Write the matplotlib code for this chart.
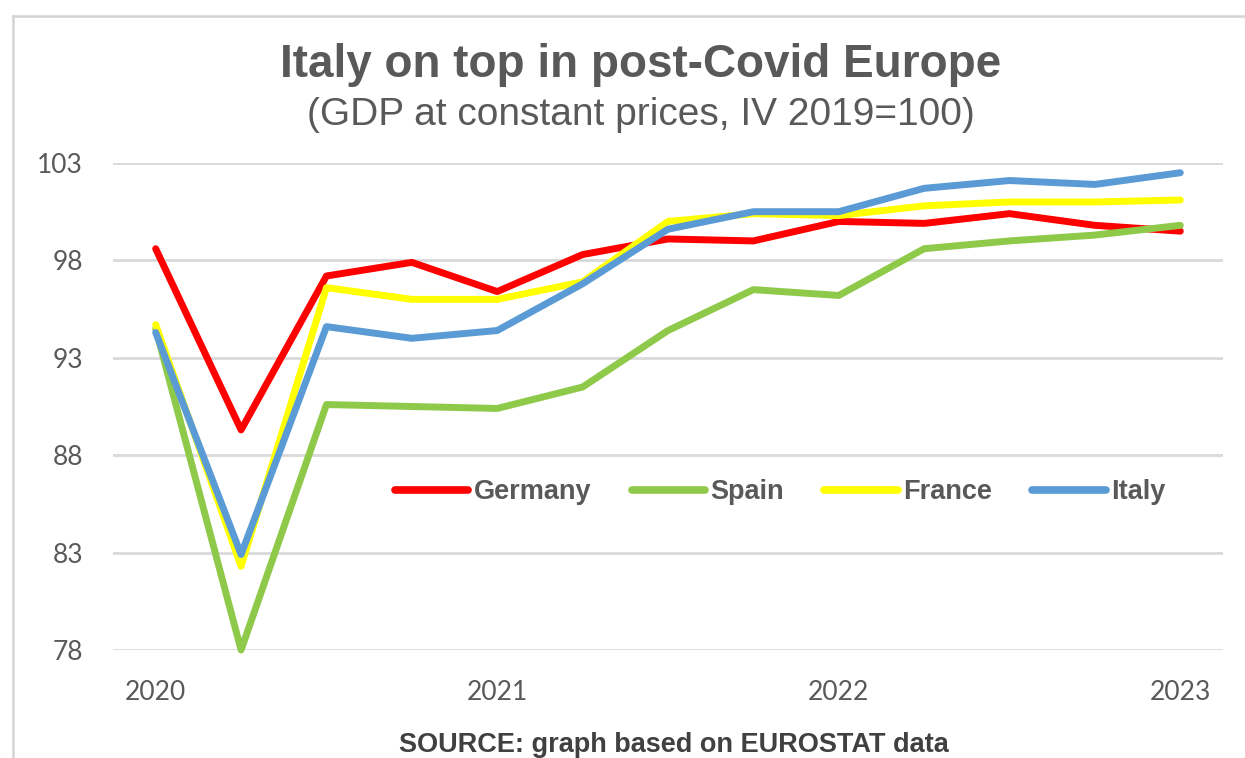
import matplotlib
matplotlib.use("Agg")
import matplotlib.pyplot as plt
from matplotlib.lines import Line2D

# ---- data (GDP at constant prices, IV 2019 = 100), quarterly 2020Q1 .. 2023Q1 ----
quarters = ["2020Q1", "2020Q2", "2020Q3", "2020Q4",
            "2021Q1", "2021Q2", "2021Q3", "2021Q4",
            "2022Q1", "2022Q2", "2022Q3", "2022Q4",
            "2023Q1"]
germany = [98.6, 89.3, 97.2, 97.9, 96.4, 98.3, 99.1, 99.0, 100.0, 99.9, 100.4, 99.8, 99.5]
spain = [94.5, 78.0, 90.6, 90.5, 90.4, 91.5, 94.4, 96.5, 96.2, 98.6, 99.0, 99.3, 99.8]
france = [94.7, 82.3, 96.6, 96.0, 96.0, 96.9, 100.0, 100.4, 100.3, 100.8, 101.0, 101.0, 101.1]
italy = [94.3, 82.9, 94.6, 94.0, 94.4, 96.8, 99.6, 100.5, 100.5, 101.7, 102.1, 101.9, 102.5]

series_names = ["Germany", "Spain", "France", "Italy"]
series_colors = ["#ff0000", "#8fc94a", "#ffff00", "#5b9bd5"]

year_tick_labels = ["2020", "2021", "2022", "2023"]
year_tick_quarters = ["2020Q1", "2021Q1", "2022Q1", "2023Q1"]
y_ticks = [78, 83, 88, 93, 98, 103]

TEXT = "#595959"

W, H = 1245, 758
fig = plt.figure(figsize=(W / 100, H / 100), dpi=100)
fig.patch.set_facecolor("white")

# outer frame (light grey border on top and left)
fig.add_artist(Line2D([13 / W, 13 / W], [0, 1 - 16 / H], transform=fig.transFigure,
                      color="#d4d4d4", lw=1.8))
fig.add_artist(Line2D([13 / W, 1], [1 - 16 / H, 1 - 16 / H], transform=fig.transFigure,
                      color="#d4d4d4", lw=1.8))

ax = fig.add_axes([113 / W, 1 - 650 / H, 1110 / W, 487 / H])

x = list(range(len(quarters)))
for name, vals, col in zip(series_names, [germany, spain, france, italy], series_colors):
    ax.plot(x, vals, color=col, lw=5, label=name, solid_joinstyle="round",
            solid_capstyle="round", clip_on=False, zorder=3)

ax.set_xlim(-0.5, len(quarters) - 0.5)
ax.set_ylim(y_ticks[0], y_ticks[-1])
ax.set_yticks(y_ticks)
ax.set_yticklabels([str(v) for v in y_ticks])
ax.set_xticks([quarters.index(q) for q in year_tick_quarters])
ax.set_xticklabels(year_tick_labels)

for s in ax.spines.values():
    s.set_visible(False)
ax.yaxis.grid(True, color="#d9d9d9", lw=2)
ax.set_axisbelow(True)
ax.tick_params(axis="both", length=0, labelcolor=TEXT)
ax.tick_params(axis="y", pad=21.5)
ax.tick_params(axis="x", pad=21.5)
for lab in ax.get_yticklabels() + ax.get_xticklabels():
    lab.set_fontfamily(["Lato", "DejaVu Sans"])
    lab.set_fontsize(19)

leg = ax.legend(loc="center", bbox_to_anchor=(0.601, 0.324), ncol=4, frameon=False,
                handlelength=2.7, handletextpad=0.2, columnspacing=1.5, borderpad=0,
                prop={"family": ["Liberation Sans", "DejaVu Sans"], "weight": "bold", "size": 19.5})
for t in leg.get_texts():
    t.set_color(TEXT)
for h in leg.get_lines():
    h.set_linewidth(5.5)
    h.set_solid_capstyle("round")

fig.text(641 / W, 1 - 77 / H, "Italy on top in post-Covid Europe", ha="center", va="baseline",
         fontsize=33, fontweight="bold", color=TEXT, family=["Liberation Sans", "DejaVu Sans"])
fig.text(641 / W, 1 - 125 / H, "(GDP at constant prices, IV 2019=100)", ha="center", va="baseline",
         fontsize=28, color=TEXT, family=["Liberation Sans", "DejaVu Sans"])
fig.text(674 / W, 1 - 752 / H, "SOURCE: graph based on EUROSTAT data", ha="center", va="baseline",
         fontsize=19.5, fontweight="bold", color="#404040", family=["Liberation Sans", "DejaVu Sans"])

fig.savefig("out.png", dpi=100, facecolor="white")
